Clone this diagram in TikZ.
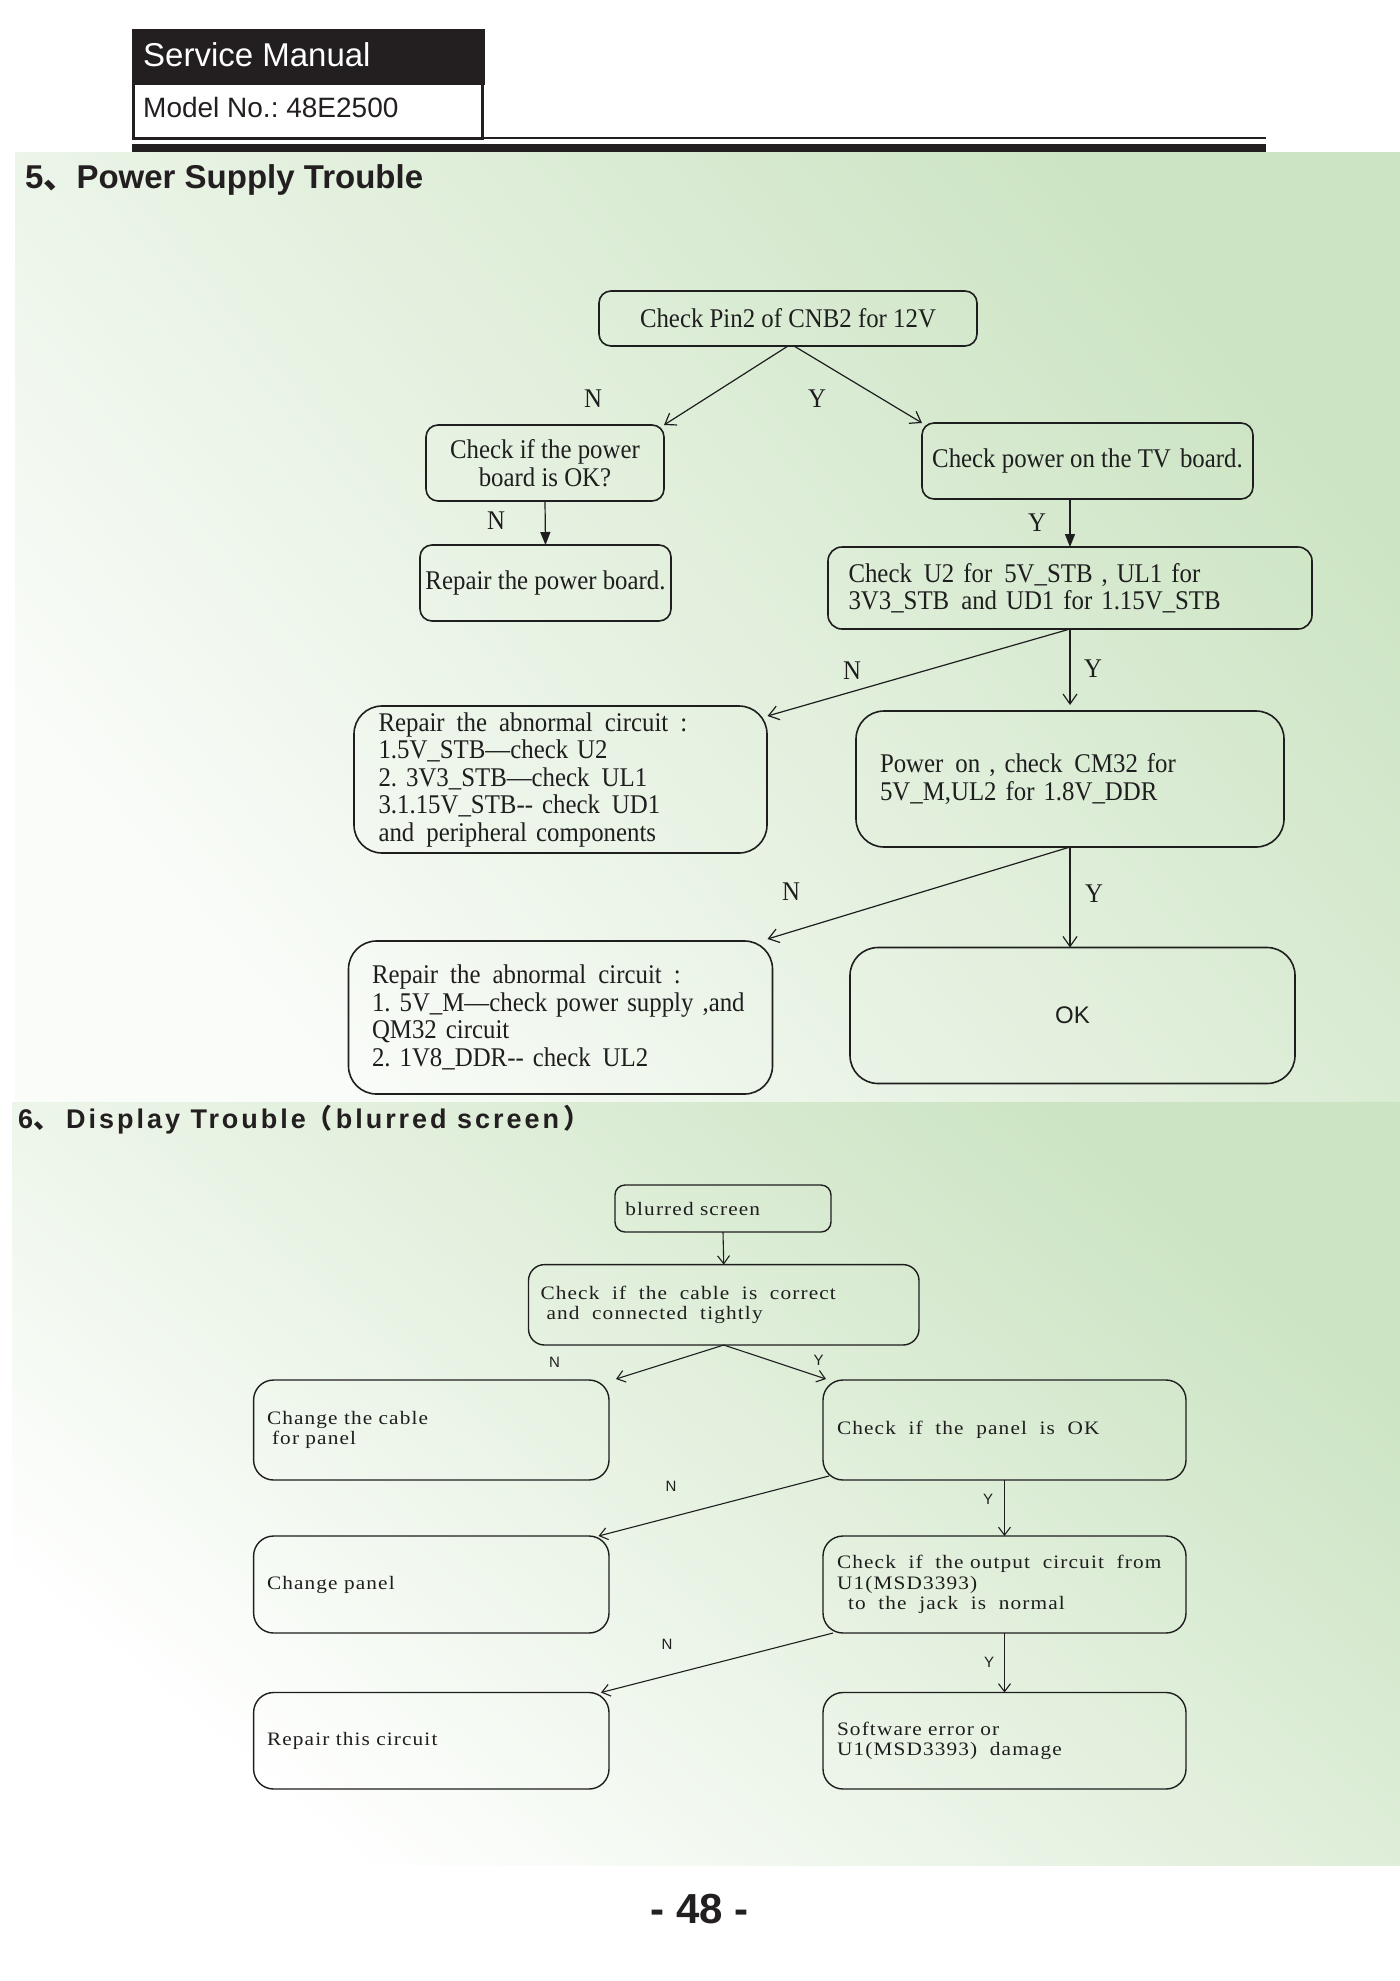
\documentclass[tikz,border=0pt]{standalone}
\usepackage{fontspec}
\usetikzlibrary{arrows.meta,calc}
\newfontfamily\sansA{Liberation Sans}
\newfontfamily\sansSp{Liberation Sans}[LetterSpace=11]
\newfontfamily\serA{Liberation Serif}[FakeStretch=0.92]
\newfontfamily\serB{Liberation Serif}[FakeStretch=1.12, LetterSpace=6]
\newfontfamily\cjkA{Noto Sans CJK SC}
\newcommand\xs{\hspace{3pt}}
\definecolor{gTop}{RGB}{204,228,195}
\definecolor{gBot}{RGB}{250,252,249}
\definecolor{ink}{RGB}{30,30,30}
\definecolor{hdr}{RGB}{35,31,32}
\tikzset{
  fa/.style={font=\serA\fontsize{27}{27.5}\selectfont, text=ink},
  fb/.style={font=\serB\fontsize{19}{20.5}\selectfont, text=ink},
  boxa/.style={draw=ink, line width=1.6pt, outer sep=0pt, inner ysep=0pt, fa},
  boxb/.style={draw=ink, line width=1.4pt, outer sep=0pt, inner ysep=0pt, fb, rounded corners=20pt, align=left},
  arrO/.style={draw=ink, line width=1.2pt, -{Straight Barb[length=10pt,width=14pt]}},
  arrF/.style={draw=ink, line width=1.2pt, -{Triangle[length=13pt,width=10pt]}},
  arrS/.style={draw=ink, line width=1.1pt, -{Straight Barb[length=8pt,width=12pt]}},
  lblA/.style={fa, inner sep=0pt},
  lblB/.style={font=\sansA\fontsize{15}{15}\selectfont, text=ink, inner sep=0pt},
}
\begin{document}
\frenchspacing
\begin{tikzpicture}[x=1pt,y=-1pt]
\useasboundingbox (0,0) rectangle (1400,1981);
\fill[white] (0,0) rectangle (1400,1981);
% backgrounds
\shade[top color=gTop, bottom color=gBot, shading angle=-50] (15,152) rectangle (1400,1102);
\shade[top color=gTop, bottom color=white, shading angle=-40] (12,1102) rectangle (1400,1865);
% header
\fill[hdr] (132,29) rectangle (485,85);
\draw[hdr, line width=3pt] (133.5,85) -- (133.5,138) -- (482,138) -- (482,85);
\draw[hdr, line width=2pt] (482,138) -- (1266,138);
\fill[hdr] (132,144) rectangle (1266,152);
\node[anchor=base west, inner sep=0pt, text=white, font=\sansA\fontsize{33}{33}\selectfont] (hdrA) at (143,66) {Service Manual};
\node[anchor=base west, inner sep=0pt, text=hdr, font=\sansA\fontsize{28}{28}\selectfont] (hdrB) at (143,117.5) {Model No.: 48E2500};
% titles
\node[anchor=base west, inner sep=0pt, text=hdr, font=\sansA\bfseries\fontsize{33}{33}\selectfont] (t1) at (25,188) {5{\cjkA 、}Power Supply Trouble};
\node[anchor=base west, inner sep=0pt, text=hdr, font=\sansSp\bfseries\fontsize{27}{27}\selectfont] (t2) at (18,1128) {6{\cjkA 、}\kern6pt Display Trouble\makebox[30pt][l]{\cjkA （}blurred screen\hspace{4pt}{\cjkA ）}};
\node[anchor=base, inner sep=0pt, text=hdr, font=\sansA\bfseries\fontsize{42}{42}\selectfont] (pg) at (700,1923) {- 48 -};

% ---------- section 5 ----------
\node[boxa, rounded corners=12pt, minimum width=378pt, minimum height=55pt, inner xsep=0pt, align=center] (b1) at (788,318.5) {Check Pin2 of CNB2 for 12V};
\node[boxa, rounded corners=12pt, minimum width=238pt, minimum height=76pt, inner xsep=0pt, align=center] (b2) at (545,463) {Check if the power\\board is OK?};
\node[boxa, rounded corners=12pt, minimum width=331pt, minimum height=76pt, inner xsep=0pt, align=center] (b3) at (1087.5,461) {Check power on the TV \xs board.};
\node[boxa, rounded corners=12pt, minimum width=251pt, minimum height=76pt, inner xsep=0pt, align=center] (b4) at (545.5,583) {Repair the power board.};
\node[boxa, rounded corners=14pt, minimum width=484pt, minimum height=82pt, inner xsep=20.5pt, text width=443pt, align=left] (b5) at (1070,588) {Check \xs U2 for \xs 5V\_STB , UL1 for\\3V3\_STB \xs and UD1 for 1.15V\_STB};
\node[boxa, rounded corners=28pt, minimum width=413pt, minimum height=147pt, inner xsep=24.5pt, text width=364pt, align=left] (b6) at (560.5,779.5) {Repair \xs the \xs abnormal \xs circuit \xs :\\1.5V\_STB—check U2\\2. 3V3\_STB—check \xs UL1\\3.1.15V\_STB-{}- check \xs UD1\\and \xs peripheral components};
\node[boxa, rounded corners=28pt, minimum width=428pt, minimum height=136pt, inner xsep=24pt, text width=380pt, align=left] (b7) at (1070,779) {Power \xs on , check \xs CM32 for\\5V\_M,UL2 for 1.8V\_DDR};
\node[boxa, rounded corners=28pt, minimum width=424pt, minimum height=153pt, inner xsep=23.5pt, text width=377pt, align=left] (b8) at (560.5,1017.5) {Repair \xs the \xs abnormal \xs circuit \xs :\\\mbox{1. 5V\_M—check power supply ,and}\\QM32 circuit\\2. 1V8\_DDR-{}- check \xs UL2};
\node[boxa, rounded corners=28pt, minimum width=445pt, minimum height=136pt, inner xsep=0pt, font=\sansA\fontsize{24}{24}\selectfont] (b9) at (1072.5,1015.5) {OK};

\draw[arrO] (b1.south) -- (b2.north east);
\draw[arrO] ($(b1.south)+(6,0)$) -- (b3.north west);
\draw[arrF] (b2.south) -- (b4.north);
\draw[arrF] (b5.north |- b3.south) -- (b5.north);
\draw[arrO] (b5.south) -- ($(b6.north east)+(0.5,10)$);
\draw[arrO] (b5.south) -- ($(b7.north)+(0,-6)$);
\draw[arrO] (b7.south) -- ($(b8.north east)+(-5,-2)$);
\draw[arrO] (b7.south) -- (b7.south |- b9.north);

\node[lblA] (n1) at (593,399) {N};
\node[lblA] (y1) at (817,399) {Y};
\node[lblA] (n2) at (496,521) {N};
\node[lblA] (y2) at (1037,523) {Y};
\node[lblA] (n3) at (852,671) {N};
\node[lblA] (y3) at (1093,669) {Y};
\node[lblA] (n4) at (791,892) {N};
\node[lblA] (y4) at (1094,894) {Y};

% ---------- section 6 ----------
\node[boxb, rounded corners=10pt, minimum width=216pt, minimum height=47pt, inner xsep=10.4pt, text width=195.2pt] (c1) at (723,1208.5) {blurred screen};
\node[boxb, rounded corners=16pt, minimum width=390.5pt, minimum height=80.4pt, inner xsep=12pt, text width=366.5pt] (c2) at (723.75,1304.8) {Check~ if~ the~ cable~ is~ correct\\\hspace*{6pt}and~ connected~ tightly};
\node[boxb, minimum width=355.4pt, minimum height=100pt, inner xsep=13.4pt, text width=328.6pt] (c3) at (431.3,1430) {Change the cable\\\hspace*{5pt}for panel};
\node[boxb, minimum width=363pt, minimum height=100pt, inner xsep=14pt, text width=335pt] (c4) at (1004.5,1430) {Check~ if~ the~ panel~ is~ OK};
\node[boxb, minimum width=355.4pt, minimum height=97pt, inner xsep=13.4pt, text width=328.6pt] (c5) at (431.3,1584.5) {Change panel};
\node[boxb, minimum width=363pt, minimum height=97pt, inner xsep=14pt, text width=335pt] (c6) at (1004.5,1584.5) {\mbox{Check~ if~ the output~ circuit~ from}\\U1(MSD3393)\\\hspace*{11pt}to~ the~ jack~ is~ normal};
\node[boxb, minimum width=355.4pt, minimum height=96.5pt, inner xsep=13.4pt, text width=328.6pt] (c7) at (431.3,1740.75) {Repair this circuit};
\node[boxb, minimum width=363pt, minimum height=96.5pt, inner xsep=14pt, text width=335pt] (c8) at (1004.5,1740.75) {Software error or\\U1(MSD3393)~ damage};

\draw[arrS] (c1.south) -- (c2.north);
\draw[arrS] (c2.south) -- ($(c3.north east)+(7,-1)$);
\draw[arrS] (c2.south) -- ($(c4.north west)+(3,-1)$);
\draw[arrS] ($(c4.south west)+(6,-4)$) -- ($(c5.north east)+(-10.5,0)$);
\draw[arrS] (c4.south) -- (c6.north);
\draw[arrS] ($(c6.south west)+(10,0)$) -- ($(c7.north east)+(-8,0)$);
\draw[arrS] (c6.south) -- (c8.north);

\node[lblB] (n5) at (554.5,1362) {N};
\node[lblB] (y5) at (818.5,1360) {Y};
\node[lblB] (n6) at (671,1486.5) {N};
\node[lblB] (y6) at (988,1499) {Y};
\node[lblB] (n7) at (667,1644) {N};
\node[lblB] (y7) at (989,1662) {Y};
\end{tikzpicture}
\end{document}
